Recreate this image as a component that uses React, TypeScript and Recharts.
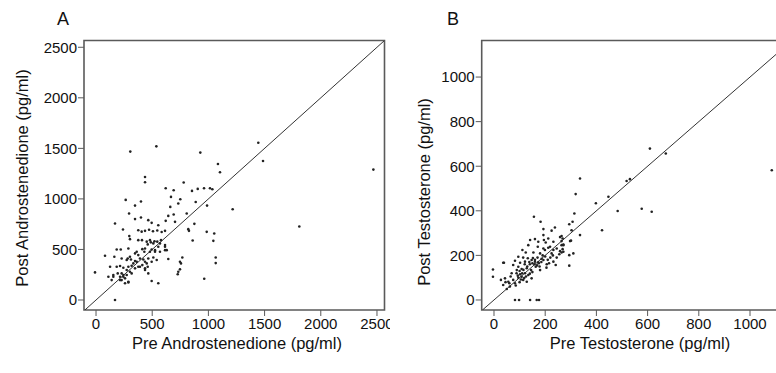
import React from "react";
import {
  ScatterChart,
  Scatter,
  XAxis,
  YAxis,
  ReferenceLine,
  ReferenceArea,
} from "recharts";

// Panel A: androstenedione, pre vs post (pg/ml)
const andPre = [
  305, 537, 928, 1444, 1486, 1085, 1103, 2468, 1809, 1216, 436, 436, 780, 854, 620, 691, 905, 961, 1014, 1035,
  264, 400, 347, 667, 750, 732, 661, 887, 988, 294, 400, 347, 691, 643, 807, 169, 465, 495, 620, 554,
  703, 875, 821, 827, 985, 1052, 860, 1044, 768, 756, 747, 1065, 1065, 963, 240, 376, 406, 436, 472, 507,
  545, 584, 614, 296, 302, 376, 480, 578, 460, 510, 569, 614, 184, 220, 288, 362, 412, 430, 495, 525,
  569, 614, 80, 163, 228, 282, 311, 347, 391, 436, 465, 510, 540, 643, 747, 125, 184, 214, 243, 288,
  317, 347, 376, 412, 436, 460, -9, 110, 154, 193, 214, 243, 273, 228, 258, 288, 317, 732, 727, 495,
  554, 169, 409, 451, 488, 520, 545, 436, 480, 525, 554, 614, 629, 347, 376, 302, 273, 332, 362, 421,
  451, 495, 391, 436, 465, 273, 302, 228, 243, 288, 154, 139, 214, 258,
];
const andPost = [
  1468, 1520, 1458, 1556, 1375, 1345, 1263, 1290, 727, 898, 1217, 1165, 1162, 1079, 1105, 1086, 1099, 1105, 1105, 1096,
  990, 974, 934, 1020, 997, 954, 921, 970, 934, 856, 816, 800, 846, 832, 856, 757, 790, 763, 783, 740,
  773, 753, 701, 684, 674, 658, 589, 585, 421, 362, 303, 421, 365, 210, 698, 690, 676, 684, 695, 680,
  688, 672, 684, 632, 602, 592, 592, 592, 550, 560, 560, 543, 500, 500, 510, 477, 503, 477, 500, 477,
  477, 493, 437, 428, 411, 411, 401, 385, 411, 378, 411, 421, 395, 405, 378, 329, 329, 336, 319, 329,
  339, 313, 329, 345, 313, 329, 273, 230, 247, 263, 230, 247, 247, 197, 214, 174, 263, 280, 254, 188,
  165, 0, 592, 577, 570, 580, 577, 510, 477, 493, 526, 526, 493, 461, 444, 428, 395, 362, 378, 401,
  362, 378, 329, 296, 263, 296, 280, 263, 230, 181, 230, 197, 197, 165,
];

// Panel B: testosterone, pre vs post (pg/ml)
const tesPre = [
  1085, 609, 671, 336, 319, 398, 447, 518, 531, 483, 577, 616, 422, 314, 307, 294, 336, 303, 297, 310,
  294, 294, 156, 182, 193, 225, 238, -4, -4, 39, 82, 98, 141, 167, 176, 258, 212, 193, 195, 173,
  219, 232, 199, 141, 160, 202, 232, 264, 271, 134, 171, 193, 212, 245, 258, 111, 124, 154, 180, 225,
  271, 95, 114, 132, 147, 160, 173, 193, 206, 232, 241, 121, 102, 82, 75, 95, 89, 108, 128, 145,
  163, 180, 121, 102, 93, 108, 134, 69, 43, 27, 56, 75, 82, 36, 62, 50, 114, 128, 147, 36,
  264, 268, 264, 271, 268, 264, 301, 110, 118, 125, 140, 150, 158, 168, 175, 185, 150, 140, 130, 100,
  115, 88, 95, 105, 160, 170, 186, 200, 210, 220, 230, 190, 178, 205, 215, 245, 255, 65, 60, 45,
  120, 138, 152, 85, 100,
];
const tesPost = [
  582, 679, 657, 545, 475, 434, 463, 534, 542, 399, 409, 396, 313, 388, 351, 340, 291, 313, 264, 209,
  201, 154, 373, 351, 318, 311, 325, 137, 104, 167, 0, 0, 0, 0, 0, 282, 276, 291, 269, 261,
  239, 224, 224, 269, 273, 258, 261, 264, 249, 246, 239, 231, 234, 231, 219, 224, 213, 213, 209, 209,
  216, 194, 190, 187, 179, 172, 169, 179, 160, 172, 157, 172, 167, 176, 157, 149, 134, 139, 142, 134,
  149, 134, 120, 115, 109, 104, 112, 120, 97, 90, 82, 90, 75, 67, 60, 49, 90, 82, 97, 167,
  287, 276, 246, 246, 228, 213, 266, 120, 98, 105, 118, 125, 160, 155, 165, 170, 165, 160, 150, 130,
  135, 120, 100, 92, 180, 190, 185, 195, 180, 190, 200, 200, 150, 145, 165, 190, 205, 105, 75, 80,
  160, 170, 188, 65, 80,
];

const andTicks = [0, 500, 1000, 1500, 2000, 2500];
const tesXTicks = [0, 200, 400, 600, 800, 1000];
const tesYTicks = [0, 200, 400, 600, 800, 1000];

const andData = andPre.map((x, i) => ({ x, y: andPost[i] }));
const tesData = tesPre.map((x, i) => ({ x, y: tesPost[i] }));

const FONT = '"Liberation Sans", Arial, sans-serif';
const AXIS = "#5a5a5a";
const tick = { fontSize: 15, fill: "#111", fontFamily: FONT };

const Dot = (props: any) => {
  const { cx, cy } = props;
  if (cx == null || cy == null) return null;
  return <circle cx={cx} cy={cy} r={1.3} fill="#222" />;
};

function Panel({
  data,
  xDomain,
  yDomain,
  xTicks,
  yTicks,
  width,
  yAxisWidth,
  rightMargin,
}: {
  data: { x: number; y: number }[];
  xDomain: [number, number];
  yDomain: [number, number];
  xTicks: number[];
  yTicks: number[];
  width: number;
  yAxisWidth: number;
  rightMargin: number;
}) {
  const lo = Math.max(xDomain[0], yDomain[0]);
  const hi = Math.min(xDomain[1], yDomain[1]);
  return (
    <ScatterChart
      width={width}
      height={373}
      margin={{ top: 40.5, right: rightMargin, bottom: 0, left: 0 }}
    >
      <XAxis
        type="number"
        dataKey="x"
        domain={xDomain}
        ticks={xTicks}
        allowDataOverflow
        axisLine={false}
        tickLine={{ stroke: AXIS }}
        tickSize={6}
        tickMargin={2}
        height={63}
        tick={tick}
        interval={0}
      />
      <YAxis
        type="number"
        dataKey="y"
        domain={yDomain}
        ticks={yTicks}
        allowDataOverflow
        axisLine={false}
        tickLine={{ stroke: AXIS }}
        tickSize={6}
        tickMargin={1}
        width={yAxisWidth}
        tick={tick}
        interval={0}
      />
      <ReferenceArea
        x1={xDomain[0]}
        x2={xDomain[1]}
        y1={yDomain[0]}
        y2={yDomain[1]}
        fill="none"
        stroke={AXIS}
        strokeWidth={1.6}
        ifOverflow="visible"
      />
      <ReferenceLine
        segment={[
          { x: lo, y: lo },
          { x: hi, y: hi },
        ]}
        stroke="#333"
        strokeWidth={1}
        ifOverflow="hidden"
      />
      <Scatter data={data} shape={Dot} isAnimationActive={false} />
    </ScatterChart>
  );
}

export default function App() {
  const title = { fontSize: 16.5, fill: "#111", fontFamily: FONT };
  return (
    <div
      style={{
        position: "absolute",
        left: 0,
        top: 0,
        width: 776,
        height: 373,
        overflow: "hidden",
        background: "#fff",
      }}
    >
      <div style={{ position: "absolute", left: 0, top: 0 }}>
        <Panel
          data={andData}
          xDomain={[-107, 2567]}
          yDomain={[-99, 2567]}
          xTicks={andTicks}
          yTicks={andTicks}
          width={390}
          yAxisWidth={84}
          rightMargin={5.5}
        />
      </div>
      <div style={{ position: "absolute", left: 390, top: 0 }}>
        <Panel
          data={tesData}
          xDomain={[-48, 1164]}
          yDomain={[-45, 1164]}
          xTicks={tesXTicks}
          yTicks={tesYTicks}
          width={410}
          yAxisWidth={91.7}
          rightMargin={8}
        />
      </div>
      <svg
        width={776}
        height={373}
        style={{ position: "absolute", left: 0, top: 0, pointerEvents: "none" }}
      >
        <text x={57} y={25} fontSize={18} fontFamily={FONT} fill="#111">
          A
        </text>
        <text x={447} y={25} fontSize={18} fontFamily={FONT} fill="#111">
          B
        </text>
        <text x={237} y={349} textAnchor="middle" {...title}>
          Pre Androstenedione (pg/ml)
        </text>
        <text
          x={22}
          y={178}
          textAnchor="middle"
          dominantBaseline="central"
          transform="rotate(-90 22 178)"
          {...title}
        >
          Post Androstenedione (pg/ml)
        </text>
        <text x={640} y={349} textAnchor="middle" {...title}>
          Pre Testosterone (pg/ml)
        </text>
        <text
          x={423.5}
          y={192}
          textAnchor="middle"
          dominantBaseline="central"
          transform="rotate(-90 423.5 192)"
          {...title}
        >
          Post Testosterone (pg/ml)
        </text>
      </svg>
    </div>
  );
}
